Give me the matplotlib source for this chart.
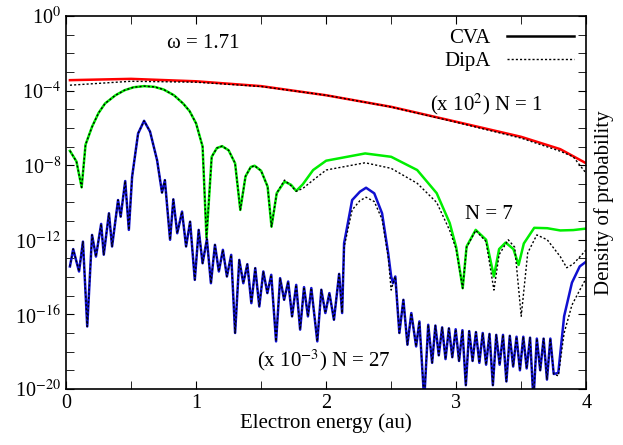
import numpy as np
import matplotlib
matplotlib.use("Agg")
import matplotlib.pyplot as plt

plt.rcParams['font.family'] = ['Liberation Serif', 'DejaVu Serif']
plt.rcParams['mathtext.fontset'] = 'stix'

# ---- N = 1 (x10^2), log10 values
red_x = [0.03, 0.5, 1.0, 1.5, 2.0, 2.5, 3.0, 3.5, 3.8, 4.0]
red_cva = [-3.44, -3.37, -3.5, -3.76, -4.25, -4.87, -5.67, -6.48, -7.14, -7.9]
red_dipx = [0.03, 0.5, 1.0, 1.5, 2.0, 2.5, 3.0, 3.5, 3.8, 3.9, 4.0]
red_dip = [-3.71, -3.5, -3.55, -3.78, -4.25, -4.88, -5.7, -6.55, -7.25, -7.55, -8.44]

# ---- N = 7
green_x = [0.03, 0.08, 0.12, 0.15, 0.2, 0.25, 0.3, 0.38, 0.45, 0.52, 0.6, 0.68, 0.75, 0.83, 0.9,
           0.95, 1.0, 1.05, 1.08, 1.12, 1.16, 1.2, 1.25, 1.3, 1.34, 1.38, 1.42, 1.45, 1.5, 1.55,
           1.58, 1.62, 1.68, 1.73, 1.77, 1.82, 1.9, 2.0, 2.3, 2.5, 2.7, 2.85, 2.95, 3.0, 3.05,
           3.08, 3.15, 3.23, 3.29, 3.33, 3.38, 3.44, 3.48, 3.52, 3.6, 3.7, 3.8, 3.9, 4.0]
green_cva = [-7.23, -7.8, -9.19, -6.9, -5.94, -5.2, -4.69, -4.25, -3.98, -3.82, -3.76, -3.8,
             -3.94, -4.25, -4.69, -5.1, -5.76, -7.0, -11.9, -7.55, -7.08, -6.98, -7.2, -7.9,
             -10.4, -8.6, -8.1, -8.03, -8.3, -9.15, -11.3, -9.5, -8.88, -9.05, -9.38, -9.03,
             -8.26, -7.76, -7.37, -7.55, -8.26, -9.5, -11.1, -12.4, -14.6, -12.36, -11.47, -12.0,
             -13.97, -12.5, -12.15, -12.5, -13.35, -12.2, -11.36, -11.38, -11.5, -11.48, -11.4]
green_dipx = [0.03, 0.08, 0.12, 0.15, 0.2, 0.25, 0.3, 0.38, 0.45, 0.52, 0.6, 0.68, 0.75, 0.83, 0.9,
              0.95, 1.0, 1.05, 1.08, 1.12, 1.16, 1.2, 1.25, 1.3, 1.34, 1.38, 1.42, 1.45, 1.5, 1.55,
              1.58, 1.62, 1.68, 1.73, 1.77, 1.82, 1.9, 2.0, 2.3, 2.5, 2.7, 2.85, 2.95, 3.0, 3.05,
              3.08, 3.15, 3.23, 3.29, 3.33, 3.4, 3.45, 3.5, 3.55, 3.62, 3.7, 3.8, 3.85, 3.9, 4.0]
green_dip = [-7.23, -7.8, -9.19, -6.9, -5.94, -5.2, -4.69, -4.25, -3.98, -3.82, -3.76, -3.8,
             -3.94, -4.25, -4.69, -5.1, -5.76, -7.0, -11.9, -7.55, -7.08, -6.98, -7.2, -7.9,
             -10.4, -8.6, -8.1, -8.03, -8.3, -9.15, -11.3, -9.5, -8.8, -9.1, -9.4, -9.25,
             -8.8, -8.26, -7.87, -8.17, -8.97, -10.0, -11.5, -12.5, -14.6, -12.4, -11.5, -12.1,
             -14.7, -12.8, -12.0, -12.4, -16.1, -12.7, -11.74, -12.0, -12.9, -13.5, -13.3, -12.54]

# ---- N = 27 (x10^-3)
blue_x = [0.03, 0.055, 0.10, 0.13, 0.163, 0.20, 0.23, 0.27, 0.29, 0.33, 0.354, 0.40, 0.42, 0.455,
          0.483, 0.508, 0.554, 0.60, 0.646, 0.70, 0.738, 0.76, 0.80, 0.825, 0.855, 0.892, 0.923,
          0.954, 0.99, 1.02, 1.05, 1.083, 1.114, 1.145, 1.175, 1.206, 1.237, 1.27, 1.30, 1.332,
          1.363, 1.394, 1.425, 1.455, 1.486, 1.517, 1.548, 1.578, 1.615, 1.646, 1.677, 1.708,
          1.738, 1.77, 1.80, 1.83, 1.86, 1.886, 1.932, 1.963, 1.994, 2.025, 2.06, 2.10, 2.123,
          2.138, 2.20, 2.26, 2.307, 2.37, 2.43, 2.477, 2.50, 2.514, 2.532, 2.563, 2.594, 2.625,
          2.655, 2.692, 2.717, 2.754, 2.785, 2.815]
blue_cva = [-13.43, -12.5, -13.7, -12.1, -16.65, -11.74, -12.9, -11.15, -12.8, -10.58, -12.36,
            -9.87, -10.76, -8.85, -11.47, -8.62, -6.3, -5.62, -6.2, -7.73, -9.47, -8.8, -12.0,
            -9.83, -11.65, -10.49, -12.36, -11.03, -14.15, -11.47, -13.26, -11.97, -14.33, -12.27,
            -13.7, -12.54, -13.97, -12.81, -17.0, -13.08, -14.33, -13.31, -15.4, -13.52, -15.58,
            -13.7, -14.86, -13.88, -17.45, -14.06, -15.22, -14.24, -16.11, -14.42, -16.82, -14.54,
            -16.11, -14.59, -17.45, -14.68, -15.93, -14.86, -16.29, -13.83, -15.93, -12.19, -9.87,
            -9.42, -9.21, -9.51, -10.58, -12.72, -13.97, -14.33, -13.97, -17.0, -15.22, -17.63,
            -15.93, -17.72, -16.38, -20.6, -16.56, -18.6]
tail_peak_x = [2.84, 2.892, 2.944, 2.996, 3.048, 3.10, 3.152, 3.204, 3.256, 3.308, 3.36, 3.412,
               3.464, 3.516, 3.568, 3.62, 3.672, 3.724]
tail_peak = [-16.6, -16.7, -16.75, -16.8, -16.85, -16.9, -16.95, -17.0, -17.05, -17.1, -17.1,
             -17.15, -17.2, -17.2, -17.25, -17.3, -17.3, -17.3]
tail_dip_x = [2.866, 2.918, 2.97, 3.022, 3.074, 3.126, 3.178, 3.23, 3.282, 3.334, 3.386, 3.438,
              3.49, 3.542, 3.594, 3.646, 3.698, 3.75]
tail_dip = [-18.2, -18.4, -18.3, -18.5, -19.8, -18.5, -18.6, -18.7, -19.8, -18.7, -19.6, -18.8,
            -19.0, -18.9, -20.6, -19.0, -19.5, -19.2]
end_x = [3.785, 3.83, 3.89, 3.95, 4.0]
end_cva = [-19.14, -16.1, -14.3, -13.43, -13.17]
end_dip = [-19.3, -17.0, -15.5, -14.7, -14.06]
# DipA differences around the 2.3 peak
bump_x = [2.138, 2.20, 2.26, 2.307, 2.37, 2.43, 2.477, 2.50]
bump_dip = [-12.4, -10.4, -9.9, -9.72, -9.95, -10.9, -12.9, -14.7]

fig = plt.figure(figsize=(6.23, 4.45), dpi=100)
ax = fig.add_axes([0.106, 0.126, 0.835, 0.838])

def curve(xs, logs):
    order = np.argsort(xs)
    xs = np.asarray(xs)[order]
    ys = 10.0 ** np.asarray(logs)[order]
    return xs, ys

bx_all = list(blue_x) + tail_peak_x + tail_dip_x + end_x
by_cva = list(blue_cva) + tail_peak + tail_dip + end_cva
by_d = list(blue_cva)
for xv, yv in zip(bump_x, bump_dip):
    by_d[blue_x.index(xv)] = yv
bx_d = list(blue_x) + tail_peak_x + tail_dip_x + end_x
by_d = by_d + tail_peak + tail_dip + end_dip

lw = 1.8
dot = (0, (1.5, 1.5))
ax.plot(*curve(red_x, red_cva), color='#ff0000', lw=lw)
ax.plot(*curve(green_x, green_cva), color='#00ee00', lw=lw)
ax.plot(*curve(bx_all, by_cva), color='#1010d0', lw=lw)
ax.plot(*curve(red_dipx, red_dip), color='black', lw=1.0, ls=dot)
ax.plot(*curve(green_dipx, green_dip), color='black', lw=1.0, ls=dot)
ax.plot(*curve(bx_d, by_d), color='black', lw=1.0, ls=dot)

ax.plot([], [], color='black', lw=lw, label='CVA')
ax.plot([], [], color='black', lw=1.0, ls=dot, label='DipA')
ax.legend(loc='upper right', frameon=False, fontsize=15, handlelength=3.2,
          markerfirst=False, borderaxespad=0.2, labelspacing=0.15)

ax.set_yscale('log')
ax.set_xlim(0, 4)
ax.set_ylim(1e-20, 1)
ax.set_yticks([1e-20, 1e-16, 1e-12, 1e-8, 1e-4, 1])
ax.set_yticklabels(['10$^{-20}$', '10$^{-16}$', '10$^{-12}$', '10$^{-8}$', '10$^{-4}$', '10$^{0}$'])
ax.set_yticks([10.0 ** k for k in range(-20, 1) if k % 4 != 0], minor=True)
ax.set_yticklabels([], minor=True)
ax.set_xticks([0, 1, 2, 3, 4])
ax.set_xticks([0.5, 1.5, 2.5, 3.5], minor=True)
ax.tick_params(which='both', direction='in', top=True, right=True, labelsize=14.5, length=6)
for s in ax.spines.values():
    s.set_linewidth(1.2)

ax.set_xlabel('Electron energy (au)', fontsize=15, labelpad=0)
ax.yaxis.set_label_position('right')
ax.set_ylabel('Density of probability', fontsize=15, labelpad=6)

ax.text(0.78, 10 ** -1.5, 'ω = 1.71', fontsize=15, va='center')
ax.text(2.8, 10 ** -4.75, '(x 10$^{2}$) N = 1', fontsize=15, va='center')
ax.text(3.07, 10 ** -10.65, 'N = 7', fontsize=15, va='center')
ax.text(1.47, 10 ** -18.45, '(x 10$^{-3}$) N = 27', fontsize=15, va='center')

fig.savefig('out.png', dpi=100)
